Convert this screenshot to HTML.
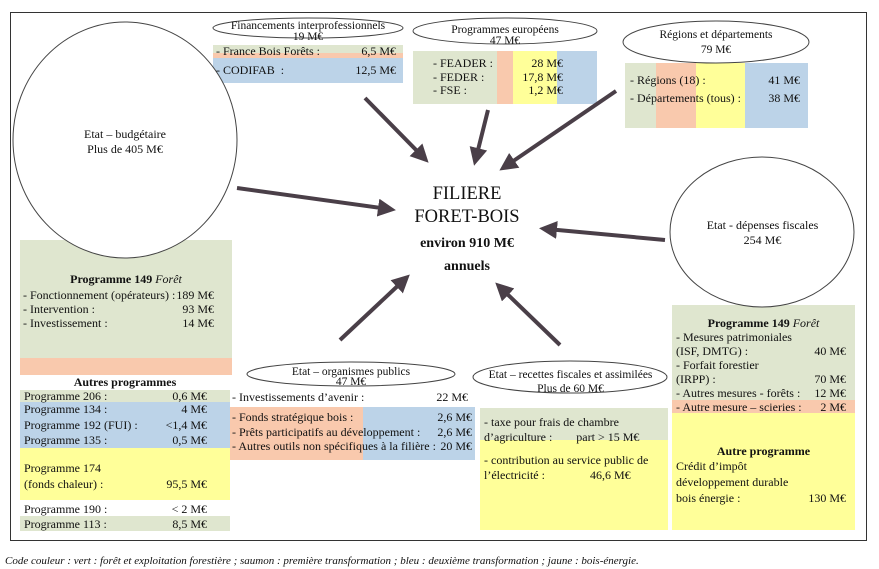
<!DOCTYPE html><html><head><meta charset="utf-8"><style>
body{margin:0;width:879px;height:569px;background:#fff;position:relative;overflow:hidden;font-family:"Liberation Serif",serif;font-size:12px;color:#111}
.a{position:absolute}
.r{position:absolute;white-space:nowrap;line-height:14px}
.g{background:#dfe6cf}.s{background:#f9c9ad}.b{background:#bcd3e8}.y{background:#ffff99}
.rt{position:absolute;right:0}
</style></head><body>
<div class="a" style="left:10px;top:12px;width:855px;height:527px;border:1px solid #333"></div>

<div class="a g" style="left:20px;top:240px;width:212px;height:118px"></div>
<div class="a s" style="left:20px;top:358px;width:212px;height:17px"></div>
<div class="a g" style="left:20px;top:390px;width:210px;height:12px"></div>
<div class="a b" style="left:20px;top:402px;width:210px;height:46px"></div>
<div class="a y" style="left:20px;top:448px;width:210px;height:52px"></div>
<div class="a g" style="left:20px;top:516px;width:210px;height:15px"></div>

<div class="a g" style="left:213px;top:45px;width:190px;height:8px"></div>
<div class="a s" style="left:213px;top:53px;width:190px;height:5px"></div>
<div class="a b" style="left:213px;top:58px;width:190px;height:25px"></div>

<div class="a g" style="left:413px;top:51px;width:84px;height:53px"></div>
<div class="a s" style="left:497px;top:51px;width:16px;height:53px"></div>
<div class="a y" style="left:513px;top:51px;width:44px;height:53px"></div>
<div class="a b" style="left:557px;top:51px;width:40px;height:53px"></div>

<div class="a g" style="left:625px;top:63px;width:31px;height:65px"></div>
<div class="a s" style="left:656px;top:63px;width:40px;height:65px"></div>
<div class="a y" style="left:696px;top:63px;width:49px;height:65px"></div>
<div class="a b" style="left:745px;top:63px;width:63px;height:65px"></div>

<div class="a g" style="left:672px;top:305px;width:183px;height:95px"></div>
<div class="a s" style="left:672px;top:400px;width:183px;height:13px"></div>
<div class="a y" style="left:672px;top:413px;width:183px;height:117px"></div>

<div class="a s" style="left:230px;top:407px;width:133px;height:53px"></div>
<div class="a b" style="left:363px;top:407px;width:112px;height:53px"></div>

<div class="a g" style="left:480px;top:408px;width:188px;height:32px"></div>
<div class="a y" style="left:480px;top:440px;width:188px;height:90px"></div>

<svg class="a" style="left:0;top:0" width="879" height="569">
<defs><marker id="m" markerWidth="4.5" markerHeight="4.5" refX="2.5" refY="2.25" orient="auto"><path d="M0,0 L4.5,2.25 L0,4.5 z" fill="#4a3f48"/></marker></defs>
<g fill="#fff" stroke="#444" stroke-width="1">
<ellipse cx="125" cy="140" rx="112" ry="118"/>
<ellipse cx="762" cy="232" rx="92" ry="75"/>
<ellipse cx="308" cy="28" rx="95" ry="10"/>
<ellipse cx="505" cy="31" rx="92" ry="13"/>
<ellipse cx="716" cy="42" rx="93" ry="21"/>
<ellipse cx="351" cy="374" rx="104" ry="12"/>
<ellipse cx="570" cy="377" rx="97" ry="16"/>
</g>
<g stroke="#4a3f48" stroke-width="4" marker-end="url(#m)">
<line x1="237" y1="188" x2="388" y2="209"/>
<line x1="365" y1="98" x2="423" y2="157"/>
<line x1="488" y1="110" x2="476" y2="158"/>
<line x1="616" y1="91" x2="506" y2="166"/>
<line x1="665" y1="240" x2="547" y2="229"/>
<line x1="340" y1="340" x2="404" y2="280"/>
<line x1="560" y1="345" x2="501" y2="288"/>
</g>
</svg>

<div class="a" style="left:50px;top:127px;width:150px;text-align:center;line-height:15px">Etat – budgétaire<br>Plus de 405 M€</div>
<div class="a" style="left:670px;top:218px;width:185px;text-align:center;line-height:15px">Etat - dépenses fiscales<br>254 M€</div>
<div class="a" style="left:367px;top:183px;width:200px;text-align:center;font-size:18.5px;line-height:23px">FILIERE<br>FORET-BOIS</div>
<div class="a" style="left:367px;top:232px;width:200px;text-align:center;font-size:14px;font-weight:bold;line-height:23px">environ 910 M€<br>annuels</div>

<div class="a" style="left:213px;top:21px;width:190px;text-align:center;line-height:11px;font-size:11.5px">Financements interprofessionnels<br>19 M€</div>
<div class="r" style="left:216px;top:44px;width:180px">- France Bois Forêts :<span class="rt">6,5 M€</span></div>
<div class="r" style="left:216px;top:63px;width:180px">- CODIFAB &nbsp;:<span class="rt">12,5 M€</span></div>

<div class="a" style="left:413px;top:25px;width:184px;text-align:center;line-height:11px;font-size:11.5px">Programmes européens<br>47 M€</div>
<div class="r" style="left:433px;top:57px;width:130px;line-height:13.5px">- FEADER :<br>- FEDER :<br>- FSE :</div>
<div class="r" style="left:500px;top:57px;width:63px;text-align:right;line-height:13.5px">28 M€<br>17,8 M€<br>1,2 M€</div>

<div class="a" style="left:623px;top:28px;width:186px;text-align:center;line-height:15px;font-size:11.5px">Régions et départements<br>79 M€</div>
<div class="r" style="left:630px;top:73px;width:170px">- Régions (18) :<span class="rt">41 M€</span></div>
<div class="r" style="left:630px;top:91px;width:170px">- Départements (tous) :<span class="rt">38 M€</span></div>

<div class="a" style="left:20px;top:272px;width:212px;text-align:center;font-weight:bold;line-height:14px">Programme 149 <i style="font-weight:normal">Forêt</i></div>
<div class="r" style="left:23px;top:288px;width:191px">- Fonctionnement (opérateurs) :<span class="rt">189 M€</span></div>
<div class="r" style="left:23px;top:302px;width:191px">- Intervention :<span class="rt">93 M€</span></div>
<div class="r" style="left:23px;top:316px;width:191px">- Investissement :<span class="rt">14 M€</span></div>

<div class="a" style="left:20px;top:375px;width:210px;text-align:center;font-weight:bold;line-height:14px">Autres programmes</div>
<div class="r" style="left:24px;top:389px;width:183px">Programme 206 :<span class="rt">0,6 M€</span></div>
<div class="r" style="left:24px;top:402px;width:183px">Programme 134 :<span class="rt">4 M€</span></div>
<div class="r" style="left:24px;top:418px;width:183px">Programme 192 (FUI) :<span class="rt">&lt;1,4 M€</span></div>
<div class="r" style="left:24px;top:433px;width:183px">Programme 135 :<span class="rt">0,5 M€</span></div>
<div class="r" style="left:24px;top:460px;width:183px;line-height:16px">Programme 174<br>(fonds chaleur) :<span class="rt" style="bottom:0">95,5 M€</span></div>
<div class="r" style="left:24px;top:502px;width:183px">Programme 190 :<span class="rt">&lt; 2 M€</span></div>
<div class="r" style="left:24px;top:517px;width:183px">Programme 113 :<span class="rt">8,5 M€</span></div>

<div class="a" style="left:247px;top:367px;width:208px;text-align:center;line-height:10px;font-size:11.5px">Etat – organismes publics<br>47 M€</div>
<div class="r" style="left:232px;top:390px;width:236px">- Investissements d’avenir :<span class="rt">22 M€</span></div>
<div class="r" style="left:232px;top:410px;width:240px;line-height:14.5px">- Fonds stratégique bois :<br>- Prêts participatifs au développement :<br>- Autres outils non spécifiques à la filière :</div>
<div class="r" style="left:420px;top:410px;width:52px;text-align:right;line-height:14.5px">2,6 M€<br>2,6 M€<br>20 M€</div>

<div class="a" style="left:473px;top:368px;width:195px;text-align:center;line-height:14px;font-size:11.5px">Etat – recettes fiscales et assimilées<br>Plus de 60 M€</div>
<div class="r" style="left:484px;top:415px;line-height:15px">- taxe pour frais de chambre<br>d’agriculture : &nbsp;&nbsp;&nbsp;&nbsp;&nbsp;&nbsp;&nbsp;part &gt; 15 M€</div>
<div class="r" style="left:484px;top:453px;line-height:15px">- contribution au service public de<br>l’électricité : &nbsp;&nbsp;&nbsp;&nbsp;&nbsp;&nbsp;&nbsp;&nbsp;&nbsp;&nbsp;&nbsp;&nbsp;&nbsp;&nbsp;46,6 M€</div>

<div class="a" style="left:672px;top:316px;width:183px;text-align:center;font-weight:bold;line-height:14px">Programme 149 <i style="font-weight:normal">Forêt</i></div>
<div class="r" style="left:676px;top:330px;width:170px">- Mesures patrimoniales</div>
<div class="r" style="left:676px;top:344px;width:170px">(ISF, DMTG) :<span class="rt">40 M€</span></div>
<div class="r" style="left:676px;top:358px;width:170px">- Forfait forestier</div>
<div class="r" style="left:676px;top:372px;width:170px">(IRPP) :<span class="rt">70 M€</span></div>
<div class="r" style="left:676px;top:386px;width:170px">- Autres mesures - forêts :<span class="rt">12 M€</span></div>
<div class="r" style="left:676px;top:400px;width:170px">- Autre mesure – scieries :<span class="rt">2 M€</span></div>
<div class="a" style="left:672px;top:444px;width:183px;text-align:center;font-weight:bold;line-height:14px">Autre programme</div>
<div class="r" style="left:676px;top:458px;width:170px;line-height:16px">Crédit d’impôt<br>développement durable<br>bois énergie :<span class="rt" style="bottom:0">130 M€</span></div>

<div class="a" style="left:5px;top:555px;font-style:italic;font-size:11px;white-space:nowrap">Code couleur : vert : forêt et exploitation forestière ; saumon : première transformation ; bleu : deuxième transformation ; jaune : bois-énergie.</div>
</body></html>
